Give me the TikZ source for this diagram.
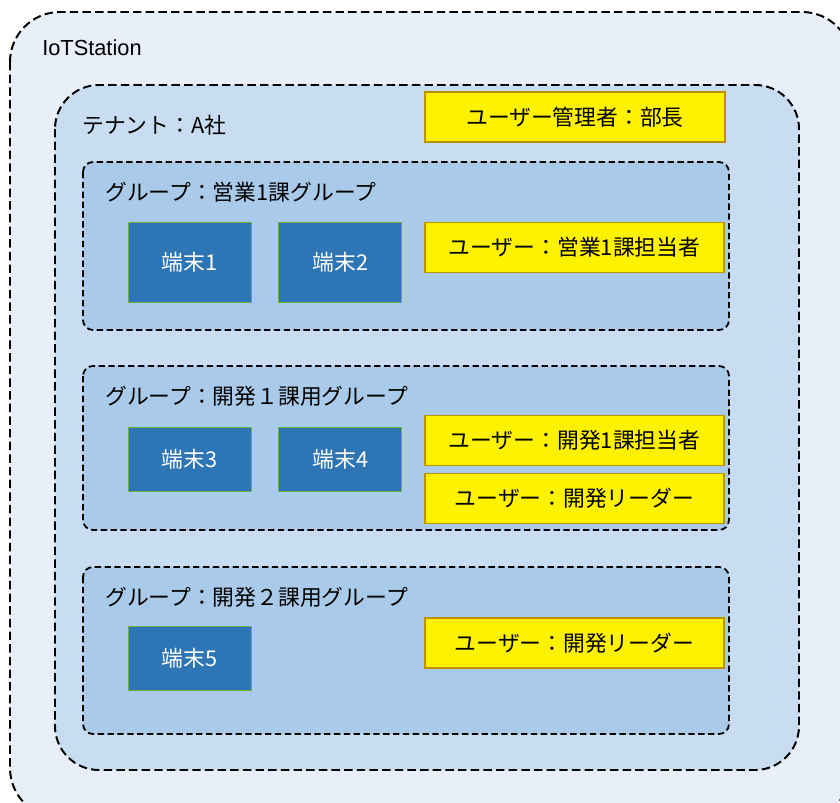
\documentclass[tikz,border=0pt]{standalone}
\usepackage{fontspec}
\setmainfont{Liberation Sans}
\newfontfamily\jpfont{Noto Sans CJK JP}
\usetikzlibrary{positioning}

\definecolor{stationfill}{RGB}{232,239,248}
\definecolor{tenantfill}{RGB}{200,221,241}
\definecolor{groupfill}{RGB}{170,202,234}
\definecolor{termfill}{RGB}{46,117,182}
\definecolor{termline}{RGB}{112,173,71}
\definecolor{userline}{RGB}{191,144,0}

\begin{document}
\begin{tikzpicture}[x=0.025cm,y=-0.025cm,node distance=6.75mm,
                    font=\jpfont\fontsize{15.5}{18}\selectfont,
                    station box/.style={draw,fill=stationfill,line width=1.4pt,
                      dash pattern=on 6pt off 3pt,rounded corners=12.5mm},
                    tenant box/.style={draw,fill=tenantfill,line width=1.4pt,
                      dash pattern=on 6pt off 3pt,rounded corners=11mm},
                    group box/.style={draw,fill=groupfill,line width=1.3pt,
                      dash pattern=on 4.5pt off 2.5pt,rounded corners=2.5mm},
                    title node/.style={anchor=west,inner sep=0pt},
                    term node/.style={draw=termline,fill=termfill,text=white,line width=0.6pt,
                      minimum width=30.75mm,minimum height=16mm,inner sep=0pt},
                    user node/.style={draw=userline,fill=yellow,line width=1.4pt,
                      minimum width=74.75mm,minimum height=12.5mm,inner sep=0pt}]
  \useasboundingbox (0,0) rectangle (840,802);
  \clip (0,0) rectangle (840,802);

  % containers
  \draw[station box] (10,12) rectangle (852,818);
  \draw[tenant box] (55,85) rectangle (799,770);
  \draw[group box] (83,162) rectangle (729,330);
  \draw[group box] (83,366) rectangle (729,530);
  \draw[group box] (83,567) rectangle (729,734);

  \node[title node,font=\fontsize{15.5}{18}\selectfont] (station) at (42,48) {IoTStation};
  \node[title node] (tenant) at (82,125) {テナント：A社};
  \node[title node] (g1) at (105,192) {グループ：営業1課グループ};
  \node[title node] (g2) at (105,396) {グループ：開発１課用グループ};
  \node[title node] (g3) at (105,597) {グループ：開発２課用グループ};

  \node[user node] (admin) at (575,117) {ユーザー管理者：部長};

  % group 1
  \node[term node,minimum height=20mm] (t1) at (189.5,262) {端末1};
  \node[term node,minimum height=20mm] (t2) [right=of t1] {端末2};
  \node[user node] (u1) at (574.5,247.5) {ユーザー：営業1課担当者};

  % group 2
  \node[term node] (t3) at (189.5,459) {端末3};
  \node[term node] (t4) [right=of t3] {端末4};
  \node[user node] (u2) at (574.5,440.5) {ユーザー：開発1課担当者};
  \node[user node] (u3) [below=1.5mm of u2] {ユーザー：開発リーダー};

  % group 3
  \node[term node] (t5) at (189.5,658) {端末5};
  \node[user node] (u4) at (574.5,643) {ユーザー：開発リーダー};
\end{tikzpicture}
\end{document}
